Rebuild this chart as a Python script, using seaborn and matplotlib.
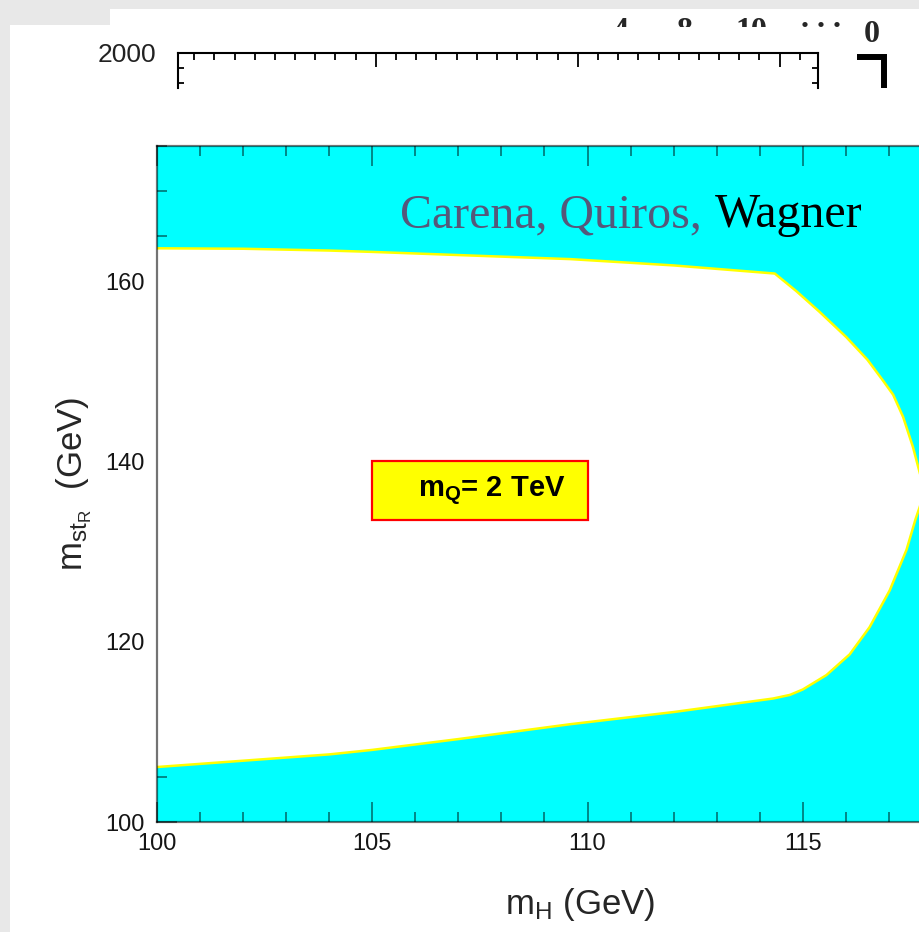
import numpy as np
import matplotlib
matplotlib.use("Agg")
import matplotlib.pyplot as plt
from matplotlib.lines import Line2D
from matplotlib.patches import Rectangle
from matplotlib.ticker import MultipleLocator, FixedLocator
import seaborn as sns

# boundary of the allowed (white) region
upper_mh = [100, 102, 104, 105, 107, 109.6, 112, 114.35, 114.85, 115.39, 116.01,
            116.5, 116.86, 117.10, 117.33, 117.56, 117.72, 117.80]
upper_mst = [163.65, 163.6, 163.4, 163.25, 162.9, 162.45, 161.75, 160.85, 158.9, 156.6,
             153.8, 151.3, 149.0, 147.4, 144.95, 141.6, 138.7, 136.8]
lower_mh = [100, 102, 104, 105, 107, 109.6, 112, 114.31, 114.7, 115.0, 115.55, 116.09,
            116.55, 117.02, 117.41, 117.62, 117.72, 117.80]
lower_mst = [106.1, 106.8, 107.5, 108.0, 109.2, 110.85, 112.2, 113.7, 114.1, 114.7, 116.3,
             118.6, 121.6, 125.7, 130.2, 133.6, 135.0, 136.8]

x_ticks = [100, 105, 110, 115]
y_ticks = [100, 120, 140, 160]

authors_grey = "Carena, Quiros,"
authors_black = "Wagner"
box_label = r"m$_{\mathbf{Q}}$= 2 TeV"
box_mh = [105, 110]
box_mst = [133.5, 140]

top_ticks = [10, 20, 30]
top_label = ["2000"]
strip_labels = ["4", "8", "10", ". . ."]

sns.set_style("ticks")
plt.rcParams["font.family"] = ["Liberation Sans", "DejaVu Sans"]
plt.rcParams["mathtext.fontset"] = "custom"
plt.rcParams["mathtext.rm"] = "Liberation Sans"
plt.rcParams["mathtext.it"] = "Liberation Sans:italic"
plt.rcParams["mathtext.bf"] = "Liberation Sans:bold"

W, H = 920, 932
fig = plt.figure(figsize=(W / 100, H / 100), dpi=100)
fig.patch.set_facecolor("#e8e8e8")

def fx(px):
    return px / W

def fy(py):
    return 1 - py / H

# white slide panels
fig.add_artist(Rectangle((fx(10), 0), 1, fy(25), transform=fig.transFigure,
                         facecolor="white", edgecolor="none", zorder=-5))
fig.add_artist(Rectangle((fx(110), fy(27)), 1, fy(9) - fy(27), transform=fig.transFigure,
                         facecolor="white", edgecolor="none", zorder=-5))

# ---- main plot ----
ax = fig.add_axes([fx(157), fy(822), 861 / W, 676 / H])
ax.set_facecolor("#00ffff")
poly_x = upper_mh + lower_mh[::-1]
poly_y = upper_mst + lower_mst[::-1]
ax.fill(poly_x, poly_y, color="white", zorder=1, lw=0)
sns.lineplot(x=poly_x, y=poly_y, sort=False, estimator=None, color="#ffff00",
             lw=1.8, ax=ax, zorder=2)

ax.set_xlim(100, 120)
ax.set_ylim(100, 175)
ax.xaxis.set_major_locator(FixedLocator(x_ticks))
ax.xaxis.set_minor_locator(MultipleLocator(1))
ax.yaxis.set_major_locator(FixedLocator(y_ticks))
ax.yaxis.set_minor_locator(MultipleLocator(5))
tick_col = (0, 0, 0, 0.55)
ax.tick_params(which="both", direction="in", top=True, right=True, color=tick_col,
               width=1.2, labelsize=17, labelcolor="#151515")
ax.tick_params(which="major", length=14.5)
ax.tick_params(which="minor", length=7.2)
ax.tick_params(axis="y", pad=9)
ax.tick_params(axis="x", pad=8)
for s in ax.spines.values():
    s.set_color(tick_col)
    s.set_linewidth(1.6)

ax.set_xlabel(r"m$_{\mathrm{H}}$ (GeV)", fontsize=25, labelpad=14)
ax.set_ylabel(r"m$_{\mathrm{st}_{\mathrm{R}}}$  (GeV)", fontsize=25, labelpad=8)
ax.xaxis.set_label_coords((580 - 157) / 861, -0.095)

t1 = ax.text(105.64, 166.0, authors_grey, fontsize=34.5, color="#55587a",
             family="Liberation Serif", va="baseline", ha="left", zorder=4)
ax.annotate(authors_black, xy=(1, 0), xycoords=t1, xytext=(9.5, 0),
            textcoords="offset points", fontsize=34.5, color="black",
            family="Liberation Serif", va="bottom", ha="left", zorder=4)

ax.add_patch(Rectangle((box_mh[0], box_mst[0]), box_mh[1] - box_mh[0],
                       box_mst[1] - box_mst[0], facecolor="#ffff00",
                       edgecolor="#ff0000", lw=1.6, zorder=4))
ax.text(106.06, 136.15, box_label, fontsize=21, fontweight="bold", color="black",
        ha="left", va="baseline", zorder=5)

# ---- piece of the plot above ----
ax2 = fig.add_axes([fx(178), fy(88), (818 - 178) / W, 35 / H])
ax2.patch.set_alpha(0)
ax2.set_xlim(0.2, 31.9)
ax2.set_ylim(1767, 2000)
ax2.spines["bottom"].set_visible(False)
for s in ["top", "left", "right"]:
    ax2.spines[s].set_color("black")
    ax2.spines[s].set_linewidth(1.5)
ax2.xaxis.set_major_locator(FixedLocator(top_ticks))
ax2.xaxis.set_minor_locator(MultipleLocator(1))
ax2.yaxis.set_major_locator(FixedLocator([2000]))
ax2.yaxis.set_minor_locator(MultipleLocator(100))
ax2.set_yticklabels(top_label)
ax2.tick_params(which="both", direction="in", top=True, bottom=False, right=True,
                labelbottom=False, width=1.3, color="black")
ax2.tick_params(axis="x", which="major", length=10)
ax2.tick_params(axis="x", which="minor", length=5)
ax2.tick_params(axis="y", which="both", length=4, labelsize=19, pad=16,
                labelcolor="#222222")

fig.text(fx(872), fy(42), "0", fontsize=23, fontweight="bold",
         family="Liberation Serif", ha="center", va="baseline")
fig.add_artist(Line2D([fx(857), fx(884), fx(884)], [fy(57), fy(57), fy(88)],
                      transform=fig.transFigure, color="black", lw=4.3,
                      solid_joinstyle="miter", solid_capstyle="butt"))

strip = fig.add_axes([fx(600), fy(27), 250 / W, 18 / H])
strip.axis("off")
for lab, px, base in zip(strip_labels, [621, 685, 751, 821], [39, 39, 39, 27]):
    strip.text((px - 600) / 250, (27 - base) / 18, lab, fontsize=23, fontweight="bold",
               family="Liberation Serif", ha="center", va="baseline",
               transform=strip.transAxes, clip_on=True)

fig.savefig("out.png", dpi=100, facecolor=fig.get_facecolor())
